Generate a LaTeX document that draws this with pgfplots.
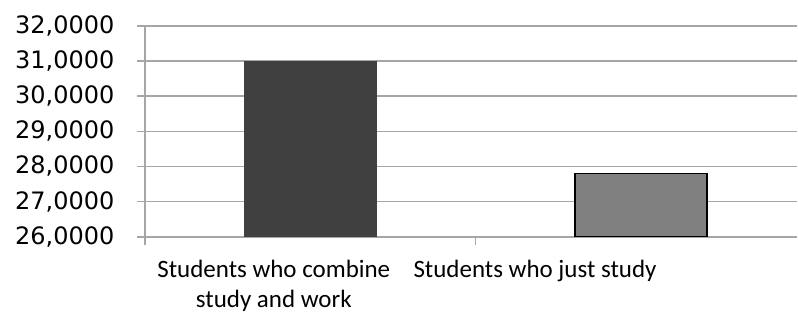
\documentclass[border=0pt]{standalone}
\usepackage{pgfplots}
\pgfplotsset{compat=1.18}
\usepackage{fontspec}
\setmainfont{Carlito}
\newfontfamily\tickfont{DejaVu Sans}
\definecolor{gridc}{HTML}{A6A6A6}
\definecolor{barA}{HTML}{404040}
\definecolor{barB}{HTML}{808080}
\begin{document}
\begin{tikzpicture}
\begin{axis}[
  scale only axis,
  width=653pt, height=211pt,
  xmin=-0.5, xmax=1.473,
  ymin=26, ymax=32,
  ytick={26,27,28,29,30,31,32},
  ymajorgrids,
  major grid style={gridc, line width=1.6pt},
  axis x line*=bottom,
  axis y line*=left,
  axis line style={gridc, line width=1.6pt},
  xtick={-0.5,0.5,1.5},
  xticklabels={},
  extra x ticks={-0.11,0.68},
  extra x tick labels={{Students who combine\\study and work},{Students who just study}},
  extra x tick style={major tick length=0pt, tick style={draw=none},
     xticklabel style={font=\fontsize{25}{30}\selectfont, align=center, text=black, yshift=-20pt}},
  tick style={gridc, line width=1.6pt},
  major tick length=8pt,
  tick align=outside,
  yticklabel style={font=\tickfont\fontsize{24}{26}\selectfont, text=black, xshift=-19pt},
  /pgf/number format/.cd, fixed, fixed zerofill, precision=4, use comma, 1000 sep={}, assume math mode=true,
]
\addplot[ybar, bar width=0.4, fill=barA, draw=barA, line width=0.5pt] coordinates {(0,31.0)};
\addplot[ybar, bar width=0.4, fill=barB, draw=black, line width=1.8pt] coordinates {(1,27.8)};
\end{axis}
\path[use as bounding box] ([xshift=-145pt,yshift=-81pt]current axis.south west) rectangle ([yshift=26pt]current axis.north east);
\end{tikzpicture}
\end{document}
